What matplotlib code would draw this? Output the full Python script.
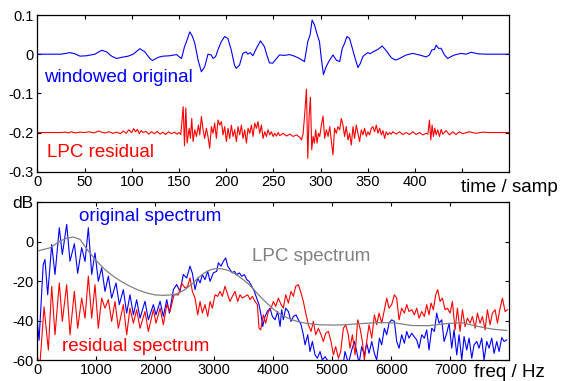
import matplotlib.pyplot as plt

plt.rcParams['font.family'] = ['Liberation Sans', 'DejaVu Sans']

# --- top panel: windowed speech frame and its LPC residual (residual shown at -0.2) ---
orig_wave = [
    (0, 0), (25, 0), (27.5, 0.001), (34.6, 0.004), (39.9, 0.001), (45.2, -0.005), (52.2, -0.004),
    (61, 0), (68.1, 0.01), (73.4, 0.006), (78.7, -0.005), (84, -0.011), (89.3, -0.008), (96.3, -0.005),
    (101.6, 0), (108.6, 0.014), (113.9, 0.006), (119.2, -0.011), (122, -0.016), (128, -0.008),
    (133.3, -0.005), (140.4, -0.004), (147.5, -0.001), (151, -0.008), (152.8, -0.011), (155.9, 0.019),
    (158, 0.032), (161.5, 0.057), (164.4, 0.045), (166.8, 0.028), (170.3, -0.015), (173.8, -0.045),
    (177.3, -0.032), (180.8, 0), (184.3, -0.002), (186.1, -0.011), (188.9, -0.006), (191.3, 0.011),
    (194.9, 0.032), (198.4, 0.045), (201.9, 0.04), (205.4, 0.011), (208.9, -0.028), (210.7, -0.036),
    (214.2, -0.028), (217.7, 0.002), (221.2, 0.006), (223, 0), (225.5, 0.004), (228.3, -0.004),
    (232.5, 0.017), (236.4, 0.034), (240.6, 0.019), (243.1, -0.002), (245.9, -0.022), (249.4, -0.023),
    (253, -0.012), (256.5, -0.002), (261.8, -0.003), (267.1, -0.001), (272.4, -0.005), (277.7, -0.011),
    (283, -0.019), (286.5, 0.032), (289, 0.05), (291.1, 0.087), (293.6, 0.075), (296.1, 0.053),
    (298.9, 0.032), (300.6, -0.006), (303.1, -0.052), (305.9, -0.032), (309.4, -0.016), (313.2, -0.002),
    (316.7, -0.015), (320.3, -0.019), (323.1, 0.015), (325.5, 0.028), (328, 0.045), (330.8, 0.04),
    (333.7, 0.015), (336.1, -0.006), (339.6, -0.034), (342.1, -0.024), (344.9, -0.006), (347.7, 0),
    (350.2, 0.004), (352.6, 0.001), (355.5, 0.006), (360.7, 0.012), (365.3, 0.021), (369.6, 0.009),
    (374.9, -0.009), (379.4, -0.015), (383.7, -0.011), (390.7, -0.002), (397.8, 0.002), (404.8, -0.002),
    (411.9, -0.007), (415.4, -0.002), (417.9, 0.011), (420.7, 0.012), (422.5, 0.023), (424.9, 0.015),
    (427.7, 0.015), (431.3, -0.002), (434.8, -0.011), (438.3, -0.006), (441.9, -0.002), (448.9, 0.002),
    (454.2, 0), (459.5, 0.005), (466.6, 0.001), (475.4, 0), (500, 0),
]

resid_wave = [
    (0, -0.2), (25, -0.2), (30, -0.199), (33, -0.201), (36, -0.198), (40, -0.201), (45, -0.199),
    (50, -0.2), (55, -0.198), (60, -0.201), (65, -0.196), (68, -0.199), (72, -0.201), (76, -0.198),
    (80, -0.202), (84, -0.199), (88, -0.203), (91, -0.196), (94, -0.202), (97, -0.193), (100, -0.2),
    (102, -0.19), (104, -0.198), (106, -0.192), (108, -0.203), (110, -0.195), (112, -0.2), (115, -0.197),
    (118, -0.204), (121, -0.198), (124, -0.203), (127, -0.197), (130, -0.204), (133, -0.199),
    (136, -0.205), (139, -0.198), (142, -0.203), (145, -0.199), (148, -0.204), (150, -0.2),
    (152, -0.205), (154.5, -0.134), (155.9, -0.234), (157.3, -0.137), (158.7, -0.227), (160.8, -0.189),
    (162.2, -0.215), (163.6, -0.164), (165, -0.223), (166.8, -0.193), (168.6, -0.210), (170.7, -0.181),
    (172.1, -0.206), (173.8, -0.159), (175.6, -0.193), (177.3, -0.215), (179.1, -0.189), (180.8, -0.210),
    (182.6, -0.24), (184.4, -0.185), (186.1, -0.202), (187.9, -0.176), (189.7, -0.215), (191.4, -0.168),
    (193.2, -0.181), (195, -0.172), (196.7, -0.206), (198.5, -0.185), (200.3, -0.223), (202, -0.189),
    (203.8, -0.215), (205.6, -0.181), (207.3, -0.210), (209.1, -0.193), (210.9, -0.223), (212.6, -0.185),
    (214.4, -0.206), (216.2, -0.181), (217.9, -0.215), (219.7, -0.193), (221.5, -0.227), (223.2, -0.189),
    (225, -0.202), (226.8, -0.181), (228.5, -0.210), (230.3, -0.176), (232.1, -0.189), (233.8, -0.172),
    (235.6, -0.202), (237.4, -0.181), (239.1, -0.215), (240.9, -0.198), (242.7, -0.210), (244.4, -0.193),
    (246.2, -0.206), (248, -0.198), (249.8, -0.210), (251.5, -0.202), (253.3, -0.209), (255.1, -0.200),
    (256.8, -0.208), (260.3, -0.202), (263.9, -0.209), (267.4, -0.204), (271, -0.210), (274.5, -0.206),
    (278, -0.212), (279.8, -0.219), (281.6, -0.202), (283.3, -0.151), (285.1, -0.089), (286.5, -0.266),
    (287.9, -0.159), (289.3, -0.11), (290.7, -0.244), (292.1, -0.210), (293.5, -0.227), (294.9, -0.193),
    (296.3, -0.227), (297.8, -0.202), (299.2, -0.210), (300.9, -0.181), (302.7, -0.158), (304.4, -0.215),
    (306.2, -0.193), (308, -0.210), (309.8, -0.185), (311.5, -0.223), (313.2, -0.257), (314.9, -0.189),
    (316.7, -0.202), (318.4, -0.185), (320.3, -0.193), (322, -0.164), (323.8, -0.181), (325.5, -0.210),
    (327.3, -0.185), (329.1, -0.219), (330.8, -0.202), (332.6, -0.232), (334.4, -0.185), (336.1, -0.215),
    (337.9, -0.181), (339.6, -0.202), (341.4, -0.223), (343.2, -0.193), (344.9, -0.206), (346.7, -0.189),
    (348.5, -0.210), (350.2, -0.198), (352, -0.206), (353.8, -0.189), (355.5, -0.185), (357.3, -0.198),
    (359.1, -0.181), (360.8, -0.202), (362.6, -0.189), (364.4, -0.206), (366.1, -0.195), (367.9, -0.215),
    (369.6, -0.198), (371.4, -0.206), (373.2, -0.200), (374.9, -0.204), (376.7, -0.198), (380.2, -0.204),
    (383.7, -0.198), (387.3, -0.205), (390.8, -0.200), (394.3, -0.205), (397.8, -0.198), (401.3, -0.205),
    (404.8, -0.200), (408.4, -0.206), (411.9, -0.202), (413.7, -0.204), (415.4, -0.168), (416.8, -0.219),
    (418.2, -0.181), (419.6, -0.210), (421.1, -0.189), (422.5, -0.206), (424.2, -0.193), (426, -0.210),
    (427.8, -0.192), (429.5, -0.204), (433, -0.195), (436.6, -0.206), (440.1, -0.198), (443.6, -0.205),
    (447.1, -0.198), (450.6, -0.203), (457.7, -0.198), (464.7, -0.202), (471.8, -0.199), (478.8, -0.2),
    (500, -0.2),
]

# --- bottom panel: spectra in dB vs Hz ---
orig_spec = [
    (0, -40.4), (30, -50), (100, -11.6), (130, -9.0), (176, -26.9), (244, -1.4), (300, -16.6),
    (373, 7.1), (424, -6.5), (498, 8.8), (554, -9.9), (628, -1.0), (684, -16.0), (752, -3.0),
    (809, -10.0), (865, 7.1), (922, -16.6), (978, -5.6), (1034, -20.1), (1091, -13.2), (1147, -25.2),
    (1204, -17.5), (1260, -28.6), (1334, -20.9), (1390, -31.9), (1458, -24.3), (1515, -36.2),
    (1571, -26.9), (1628, -37.1), (1684, -29.4), (1741, -38.8), (1825, -30.2), (1882, -39.6),
    (1967, -31.9), (2012, -37.1), (2081, -30.2), (2136, -37.9), (2194, -29.4), (2239, -36.2),
    (2306, -24.3), (2362, -21.7), (2419, -25.2), (2475, -16.6), (2532, -18.4), (2588, -12.4),
    (2628, -16.0), (2673, -24.3), (2719, -18.4), (2758, -20.9), (2798, -16.7), (2842, -19.2),
    (2888, -15.0), (2928, -20.1), (2984, -15.8), (3040, -15.0), (3069, -10.7), (3114, -12.4),
    (3153, -9.9), (3193, -8.2), (3227, -12.4), (3266, -14.1), (3306, -15.8), (3340, -15.0),
    (3379, -16.7), (3425, -15.8), (3464, -17.5), (3509, -16.7), (3549, -19.2), (3588, -20.1),
    (3634, -22.6), (3679, -25.2), (3718, -28.6), (3758, -31.9), (3792, -37.1), (3820, -43.0),
    (3859, -37.9), (3899, -35.4), (3944, -33.7), (3984, -37.9), (4029, -39.6), (4074, -35.4),
    (4114, -43.0), (4142, -34.5), (4170, -39.6), (4210, -33.7), (4255, -35.4), (4300, -40.4),
    (4340, -37.9), (4385, -37.1), (4425, -39.6), (4470, -42.1), (4509, -47.2), (4538, -52.3),
    (4583, -47.2), (4622, -55.7), (4662, -50.6), (4707, -57.4), (4746, -59.1), (4792, -55.7),
    (4831, -60.0), (4876, -58.3), (4933, -60.8), (5018, -62.0), (5103, -60.0), (5187, -61.5),
    (5215, -55.7), (5272, -61.7), (5329, -54.9), (5374, -50.6), (5413, -55.7), (5453, -61.7),
    (5498, -53.2), (5543, -57.4), (5583, -51.5), (5622, -56.6), (5668, -50.6), (5713, -56.6),
    (5752, -60.0), (5798, -48.9), (5837, -52.3), (5882, -43.9), (5922, -47.2), (5961, -41.3),
    (6006, -39.6), (6052, -40.4), (6091, -50.6), (6131, -54.0), (6176, -47.2), (6221, -51.5),
    (6261, -45.5), (6300, -48.9), (6346, -46.4), (6385, -48.1), (6430, -49.8), (6470, -54.0),
    (6515, -47.2), (6560, -48.9), (6600, -44.7), (6639, -54.9), (6685, -43.9), (6730, -45.5),
    (6769, -36.2), (6809, -41.3), (6854, -39.6), (6894, -50.6), (6939, -46.4), (6979, -41.3),
    (7024, -54.0), (7063, -44.7), (7109, -57.4), (7148, -47.2), (7194, -60.0), (7233, -48.1),
    (7278, -54.9), (7318, -48.9), (7363, -59.1), (7402, -52.3), (7448, -50.6), (7487, -54.0),
    (7532, -48.9), (7572, -60.0), (7617, -50.6), (7657, -54.0), (7702, -48.9), (7742, -56.6),
    (7787, -50.6), (7826, -55.7), (7872, -48.6), (7911, -50.6), (7956, -49.8),
]

resid_spec = [
    (0, -58), (40, -64), (114, -33), (187, -54.9), (244, -22.6), (300, -47.2), (373, -20.9),
    (424, -40.4), (498, -21.8), (554, -47.2), (628, -25.2), (684, -43.9), (752, -28.6), (809, -38.8),
    (865, -17.5), (922, -38.8), (978, -21.8), (1034, -43.9), (1091, -28.6), (1147, -33.7),
    (1204, -29.4), (1260, -40.4), (1317, -30.3), (1373, -43.9), (1458, -31.9), (1515, -47.2),
    (1571, -33.7), (1628, -41.3), (1684, -34.5), (1741, -43.9), (1825, -35.4), (1882, -45.5),
    (1967, -34.5), (2012, -41.3), (2081, -33.7), (2136, -42.1), (2194, -31.9), (2249, -35.4),
    (2317, -26.9), (2391, -26.9), (2447, -20.9), (2503, -23.5), (2549, -22.6), (2588, -18.4),
    (2628, -25.2), (2673, -28.6), (2719, -37.1), (2758, -30.3), (2798, -36.2), (2842, -31.9),
    (2888, -37.9), (2928, -30.3), (2967, -33.7), (3012, -26.9), (3057, -27.7), (3097, -25.2),
    (3136, -27.7), (3181, -22.6), (3227, -26.9), (3266, -30.3), (3306, -27.7), (3351, -25.2),
    (3396, -30.3), (3436, -26.9), (3475, -28.6), (3520, -27.7), (3566, -26.9), (3605, -29.4),
    (3645, -27.7), (3690, -30.3), (3730, -31.9), (3758, -43.9), (3786, -44.7), (3831, -37.1),
    (3871, -41.3), (3916, -35.4), (3961, -33.7), (4001, -30.3), (4040, -32.8), (4086, -28.6),
    (4131, -31.9), (4170, -33.7), (4210, -26.9), (4255, -31.1), (4300, -25.2), (4340, -27.7),
    (4379, -22.6), (4425, -21.8), (4470, -26.0), (4509, -30.3), (4549, -36.2), (4594, -42.1),
    (4639, -45.5), (4679, -40.4), (4718, -47.2), (4764, -43.9), (4809, -47.2), (4848, -50.6),
    (4888, -46.4), (4933, -45.5), (4978, -50.6), (5018, -57.4), (5057, -53.2), (5103, -59.1),
    (5142, -55.7), (5187, -43.9), (5227, -42.1), (5271, -47.2), (5300, -54.0), (5340, -47.2),
    (5385, -57.4), (5430, -39.6), (5470, -43.9), (5509, -50.6), (5543, -60.0), (5583, -50.6),
    (5622, -42.1), (5668, -48.9), (5713, -37.1), (5752, -42.1), (5792, -36.2), (5837, -41.3),
    (5882, -34.5), (5922, -28.6), (5961, -33.7), (6006, -31.9), (6052, -26.9), (6091, -28.6),
    (6131, -39.6), (6176, -33.7), (6221, -36.2), (6261, -31.9), (6300, -35.4), (6346, -34.5),
    (6391, -37.1), (6430, -33.7), (6470, -38.8), (6515, -35.4), (6560, -37.9), (6600, -31.9),
    (6639, -37.1), (6673, -31.1), (6713, -34.5), (6752, -26.9), (6786, -24.3), (6826, -30.3),
    (6866, -28.6), (6911, -34.5), (6950, -33.7), (6996, -36.2), (7035, -30.3), (7080, -44.7),
    (7120, -33.7), (7165, -45.5), (7205, -34.5), (7250, -43.0), (7290, -38.8), (7335, -41.3),
    (7374, -37.9), (7420, -43.9), (7459, -36.2), (7504, -41.3), (7544, -37.9), (7589, -44.7),
    (7628, -34.5), (7674, -42.1), (7713, -36.2), (7759, -34.5), (7798, -41.3), (7843, -33.7),
    (7883, -28.6), (7928, -35.4), (7967, -34.5),
]

lpc_spec = [
    (0, -4.7), (215, -3.1), (384, 0.3), (500, 1.8), (610, 2.4), (723, 1.2), (865, -4.7),
    (1006, -9.9), (1150, -14.2), (1288, -17.5), (1430, -20.3), (1571, -22.6), (1710, -24.5),
    (1854, -26.0), (2000, -27.0), (2136, -27.2), (2250, -27.0), (2362, -26.5), (2503, -24.3),
    (2645, -20.8), (2729, -18.2), (2815, -16.2), (2900, -14.6), (2985, -13.8), (3069, -13.6),
    (3155, -13.9), (3239, -14.6), (3325, -15.8), (3409, -17.5), (3493, -19.3), (3577, -21.4),
    (3663, -24.0), (3749, -26.9), (3833, -29.5), (3918, -31.9), (4003, -34.2), (4088, -36.2),
    (4200, -38.1), (4314, -39.6), (4427, -40.6), (4540, -41.3), (4764, -42.1), (5047, -42.3),
    (5215, -42.1), (5500, -41.5), (5780, -41.0), (6063, -41.2), (6346, -42.5), (6628, -42.6),
    (6911, -41.6), (7194, -41.1), (7476, -43.0), (7702, -44.3), (7956, -45.0),
]

time_ticks = [0, 50, 100, 150, 200, 250, 300, 350, 400, 450]
time_labels = ['0', '50', '100', '150', '200', '250', '300', '350', '400', '']
amp_ticks = [-0.3, -0.2, -0.1, 0, 0.1]
amp_labels = ['-0.3', '-0.2', '-0.1', '0', '0.1']
freq_ticks = [0, 1000, 2000, 3000, 4000, 5000, 6000, 7000]
freq_labels = ['0', '1000', '2000', '3000', '4000', '5000', '6000', '7000']
db_ticks = [-60, -40, -20, 0, 20]
db_labels = ['-60', '-40', '-20', '0', 'dB']

fig = plt.figure(figsize=(5.61, 3.81), dpi=100)
ax1 = fig.add_axes([0.0665, 0.5493, 0.8414, 0.4113])
ax2 = fig.add_axes([0.0665, 0.0551, 0.8414, 0.4139])

ax1.plot(*zip(*orig_wave), color='blue', lw=0.8)
ax1.plot(*zip(*resid_wave), color='red', lw=0.8)
ax1.set_xlim(0, 500)
ax1.set_ylim(-0.3, 0.1)
ax1.set_xticks(time_ticks, time_labels)
ax1.set_yticks(amp_ticks, amp_labels)
ax1.text(7, -0.06, 'windowed original', color='blue', fontsize=13.5, va='center')
ax1.text(10, -0.252, 'LPC residual', color='red', fontsize=13.5, va='center')

ax2.plot(*zip(*orig_spec), color='blue', lw=0.8)
ax2.plot(*zip(*resid_spec), color='red', lw=0.8)
ax2.plot(*zip(*lpc_spec), color='#808080', lw=0.9)
ax2.set_xlim(0, 8000)
ax2.set_ylim(-60, 20)
ax2.set_xticks(freq_ticks, freq_labels)
ax2.set_yticks(db_ticks, db_labels)
ax2.text(712, 13, 'original spectrum', color='blue', fontsize=13.5, va='center')
ax2.text(413, -53.4, 'residual spectrum', color='red', fontsize=13.5, va='center')
ax2.text(3634, -7.5, 'LPC spectrum', color='#808080', fontsize=13.5, va='center')

for ax in (ax1, ax2):
    ax.tick_params(direction='in', top=True, right=True, length=3, width=0.8,
                   labelsize=10.5, pad=2.5)
    for sp in ax.spines.values():
        sp.set_linewidth(0.9)

# the "dB" unit sits in place of the top y tick label, a bit larger
ax2.get_yticklabels()[-1].set_fontsize(12.5)

fig.text(0.908, 0.497, 'time / samp', ha='center', va='baseline', fontsize=13.5)
fig.text(0.908, 0.0113, 'freq / Hz', ha='center', va='baseline', fontsize=13.5)

fig.savefig('out.png', dpi=100)
